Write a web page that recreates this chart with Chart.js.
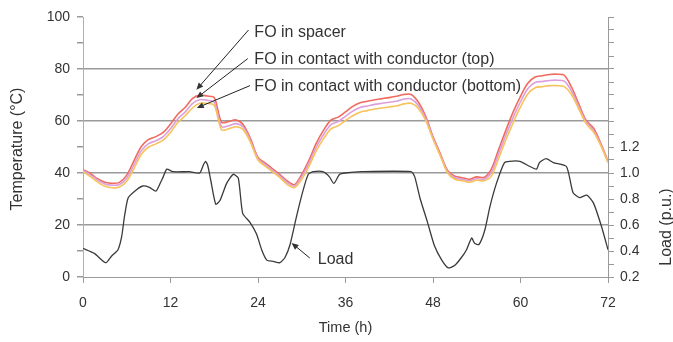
<!DOCTYPE html>
<html>
<head>
<meta charset="utf-8">
<script src="https://cdn.jsdelivr.net/npm/chart.js@4.4.0/dist/chart.umd.min.js"></script>
<style>
  html, body { margin: 0; padding: 0; background: #fff; }
  #wrap { width: 673px; height: 342px; }
</style>
</head>
<body>
<div id="wrap"><canvas id="myChart" width="673" height="342"></canvas></div>
<script>
// hours for the three fibre optic traces
const tempHours = [
  0, 1, 2, 3, 4, 5, 6, 7, 8, 9, 10, 11, 12, 13, 14, 15, 16, 17, 18, 19, 20, 21, 22, 23, 24,
  25, 26, 27, 28, 29, 30, 31, 32, 33, 34, 35, 36, 37, 38, 39, 40, 41, 42, 43, 44, 45, 46, 47, 48,
  49, 50, 51, 52, 53, 54, 55, 56, 57, 58, 59, 60, 61, 62, 63, 64, 65, 66, 67, 68, 69, 70, 71, 72,
];
const spacerTemps = [
  41.3, 39.8, 37.8, 36.4, 36.0, 36.4, 39.2, 44.8, 50.2, 52.9, 54.0, 55.6, 58.8, 62.6, 65.2, 68.6, 70.0, 69.6, 69.0, 59.5, 59.8, 60.4, 58.5, 53.0, 46.0,
  43.8, 41.6, 39.4, 37.0, 35.5, 39.5, 45.0, 51.5, 56.5, 60.3, 61.5, 63.5, 65.6, 67.0, 67.6, 68.2, 68.6, 69.0, 69.5, 70.2, 70.2, 67.2, 61.8, 54.0,
  47.5, 41.0, 38.8, 38.2, 37.6, 38.5, 38.3, 41.5, 49.0, 56.5, 63.5, 69.5, 74.5, 76.9, 77.4, 77.9, 78.0, 77.6, 73.0, 66.5, 60.2, 57.3, 51.5, 44.5,
];
const topTemps = [
  41.0, 39.3, 37.3, 35.8, 35.3, 35.6, 38.0, 43.2, 48.6, 51.3, 52.4, 54.0, 57.0, 60.8, 63.4, 66.7, 68.2, 68.0, 67.2, 57.8, 58.2, 59.0, 57.6, 52.2, 45.5,
  43.2, 41.0, 38.8, 36.3, 35.0, 38.6, 43.8, 50.0, 54.8, 58.6, 59.8, 61.8, 63.8, 65.2, 65.8, 66.4, 66.8, 67.2, 67.6, 68.4, 68.5, 66.0, 61.0, 53.5,
  47.0, 40.5, 38.2, 37.6, 37.0, 37.8, 37.6, 40.2, 47.4, 54.6, 61.4, 67.4, 72.4, 74.8, 75.2, 75.6, 75.7, 75.3, 71.5, 65.5, 59.6, 56.5, 51.0, 44.2,
];
const bottomTemps = [
  40.6, 38.6, 36.5, 34.9, 34.3, 34.6, 36.8, 41.8, 47.2, 50.0, 51.2, 52.6, 55.6, 59.4, 62.0, 65.0, 66.8, 66.8, 66.0, 56.6, 57.0, 57.8, 56.6, 51.6, 45.0,
  42.6, 40.4, 38.2, 35.6, 34.4, 37.6, 42.6, 48.6, 53.2, 57.0, 58.2, 60.2, 62.0, 63.4, 64.0, 64.6, 65.0, 65.4, 65.8, 66.6, 66.8, 64.8, 60.2, 53.0,
  46.6, 40.0, 37.6, 37.0, 36.5, 37.2, 37.0, 38.8, 45.6, 52.8, 59.4, 65.4, 70.4, 72.8, 73.2, 73.6, 73.6, 73.2, 70.2, 64.6, 59.0, 55.8, 50.6, 44.0,
];

// load curve (p.u.)
const loadHours = [
  0, 1.6, 3.1, 3.9, 4.8, 5.3, 5.7, 6.2, 7.3, 8.2, 9.1, 10.0, 10.5, 11.0, 11.5, 12.3, 14.6, 16.0,
  16.5, 16.8, 17.1, 17.5, 18.2, 18.8, 19.7, 20.6, 21.3, 21.9, 22.9, 23.8, 24.5, 25.2, 26.1, 27.0,
  27.7, 28.4, 29.3, 30.2, 30.9, 31.6, 32.9, 33.8, 34.4, 35.2, 35.9, 38.2, 45.0, 45.5, 46.2, 47.2,
  48.2, 49.2, 50.1, 51.0, 51.9, 52.6, 53.3, 53.7, 54.3, 55.1, 55.8, 56.7, 57.8, 58.5, 59.9, 61.3,
  62.2, 62.6, 63.5, 64.5, 66.3, 67.2, 68.1, 69.1, 70.0, 71.1, 72.0,
];
const loadValues = [
  0.42, 0.38, 0.31, 0.36, 0.41, 0.51, 0.67, 0.81, 0.87, 0.90, 0.89, 0.86, 0.91, 0.97, 1.03, 1.01, 1.01, 1.00,
  1.06, 1.09, 1.06, 0.95, 0.76, 0.79, 0.92, 0.99, 0.96, 0.69, 0.62, 0.53, 0.41, 0.33, 0.32, 0.31,
  0.35, 0.45, 0.67, 0.87, 0.99, 1.01, 1.01, 0.97, 0.92, 0.99, 1.00, 1.01, 1.01, 0.97, 0.81, 0.63,
  0.44, 0.33, 0.27, 0.29, 0.35, 0.41, 0.50, 0.46, 0.45, 0.56, 0.74, 0.92, 1.08, 1.09, 1.09, 1.05,
  1.03, 1.08, 1.11, 1.08, 1.05, 0.85, 0.81, 0.83, 0.77, 0.59, 0.41,
];

const tempTicks = [0, 20, 40, 60, 80, 100];
const loadTicks = [0.2, 0.4, 0.6, 0.8, 1.0, 1.2];
const seriesNames = [
  'FO in spacer',
  'FO in contact with conductor (top)',
  'FO in contact with conductor (bottom)',
  'Load',
];

// callouts: text spot and arrow, in hours / °C
const callouts = [
  { text: seriesNames[0], at: [23.5, 94.0], from: [22.7, 95.0], to: [15.55, 72.0] },
  { text: seriesNames[1], at: [23.5, 83.6], from: [22.6, 84.0], to: [15.55, 68.8] },
  { text: seriesNames[2], at: [23.5, 73.2], from: [22.9, 73.6], to: [15.6, 65.0] },
  { text: seriesNames[3], at: [32.2, 6.6], from: [31.1, 7.3], to: [28.6, 13.1] },
];

const FONT = '"Liberation Sans", Arial, sans-serif';
const TEXT = '#333';

const pairs = (xs, ys) => xs.map((h, i) => ({ x: h, y: ys[i] }));

const drawArrow = (ctx, x1, y1, x2, y2) => {
  const ang = Math.atan2(y2 - y1, x2 - x1);
  const len = 7;
  const half = 3;
  ctx.beginPath();
  ctx.moveTo(x1, y1);
  ctx.lineTo(x2 - Math.cos(ang) * len * 0.8, y2 - Math.sin(ang) * len * 0.8);
  ctx.stroke();
  ctx.beginPath();
  ctx.moveTo(x2, y2);
  ctx.lineTo(x2 - Math.cos(ang) * len - Math.sin(ang) * half, y2 - Math.sin(ang) * len + Math.cos(ang) * half);
  ctx.lineTo(x2 - Math.cos(ang) * len + Math.sin(ang) * half, y2 - Math.sin(ang) * len - Math.cos(ang) * half);
  ctx.closePath();
  ctx.fill();
};

const labelsPlugin = {
  id: 'labels',
  afterDraw(chart) {
    const { ctx, scales: { x, y, y2 } } = chart;
    ctx.save();
    ctx.fillStyle = TEXT;
    ctx.strokeStyle = '#222';
    ctx.lineWidth = 1;
    callouts.forEach((c) => {
      drawArrow(ctx, x.getPixelForValue(c.from[0]), y.getPixelForValue(c.from[1]),
        x.getPixelForValue(c.to[0]), y.getPixelForValue(c.to[1]));
      ctx.font = `16px ${FONT}`;
      ctx.textAlign = 'left';
      ctx.textBaseline = 'middle';
      ctx.fillStyle = TEXT;
      ctx.fillText(c.text, x.getPixelForValue(c.at[0]), y.getPixelForValue(c.at[1]));
    });

    // axis titles
    ctx.textAlign = 'center';
    ctx.textBaseline = 'middle';
    ctx.font = `14.5px ${FONT}`;
    ctx.fillText('Time (h)', (x.left + x.right) / 2, 328);

    ctx.font = `16px ${FONT}`;
    ctx.save();
    ctx.translate(18, (y.top + y.bottom) / 2 + 2);
    ctx.rotate(-Math.PI / 2);
    ctx.fillText('Temperature (°C)', 0, 0);
    ctx.restore();

    ctx.save();
    ctx.translate(667, (y2.getPixelForValue(0.2) + y2.getPixelForValue(1.2)) / 2 + 15);
    ctx.rotate(-Math.PI / 2);
    ctx.fillText('Load (p.u.)', 0, 0);
    ctx.restore();
    ctx.restore();
  },
};

const ctx = document.getElementById('myChart').getContext('2d');
const chart = new Chart(ctx, {
  type: 'line',
  data: {
    datasets: [
      {
        label: seriesNames[3],
        data: pairs(loadHours, loadValues),
        yAxisID: 'y2',
        borderColor: '#3a3a3a',
        borderWidth: 1.3,
        pointRadius: 0,
        tension: 0.2,
      },
      {
        label: seriesNames[2],
        data: pairs(tempHours, bottomTemps),
        yAxisID: 'y',
        borderColor: '#f7c35a',
        borderWidth: 1.6,
        pointRadius: 0,
        tension: 0.3,
      },
      {
        label: seriesNames[1],
        data: pairs(tempHours, topTemps),
        yAxisID: 'y',
        borderColor: '#dba0dc',
        borderWidth: 1.6,
        pointRadius: 0,
        tension: 0.3,
      },
      {
        label: seriesNames[0],
        data: pairs(tempHours, spacerTemps),
        yAxisID: 'y',
        borderColor: '#f06a5e',
        borderWidth: 1.6,
        pointRadius: 0,
        tension: 0.3,
      },
    ],
  },
  options: {
    responsive: false,
    animation: false,
    events: [],
    layout: { padding: { top: 17, left: 0, right: 0, bottom: 0 } },
    plugins: { legend: { display: false }, tooltip: { enabled: false } },
    scales: {
      x: {
        type: 'linear',
        min: 0,
        max: 72,
        afterFit: (s) => { s.height = 65; },
        border: { color: '#9a9a9a', width: 1 },
        grid: { drawOnChartArea: false, tickLength: 6, tickColor: '#9a9a9a' },
        ticks: {
          stepSize: 12,
          padding: 12,
          color: TEXT,
          font: { family: FONT, size: 14 },
          maxRotation: 0,
        },
      },
      y: {
        position: 'left',
        min: tempTicks[0],
        max: tempTicks[tempTicks.length - 1],
        afterFit: (s) => { s.width = 83; },
        border: { color: '#b0b0b0', width: 1 },
        grid: {
          color: (c) => (c.tick && c.tick.value > 0 && c.tick.value < 100 && tempTicks.includes(c.tick.value) ? '#9a9a9a' : 'rgba(0,0,0,0)'),
          lineWidth: 1.5,
          tickLength: 6,
          tickColor: '#9a9a9a',
        },
        ticks: {
          stepSize: 10,
          autoSkip: false,
          padding: 7,
          color: TEXT,
          font: { family: FONT, size: 14 },
          callback: (v) => (tempTicks.includes(v) ? String(v) : ''),
        },
      },
      y2: {
        position: 'right',
        min: 0.2,
        max: 2.2,
        afterFit: (s) => { s.width = 65; },
        border: { color: '#9a9a9a', width: 1 },
        grid: { drawOnChartArea: false, tickLength: 6, tickColor: '#9a9a9a' },
        ticks: {
          stepSize: 0.1,
          maxTicksLimit: 40,
          autoSkip: false,
          padding: 6,
          color: TEXT,
          font: { family: FONT, size: 14 },
          callback: (v) => {
            const hit = loadTicks.find((t) => Math.abs(t - v) < 1e-6);
            return hit !== undefined ? hit.toFixed(1) : '';
          },
        },
      },
    },
  },
  plugins: [labelsPlugin],
});
</script>
</body>
</html>
